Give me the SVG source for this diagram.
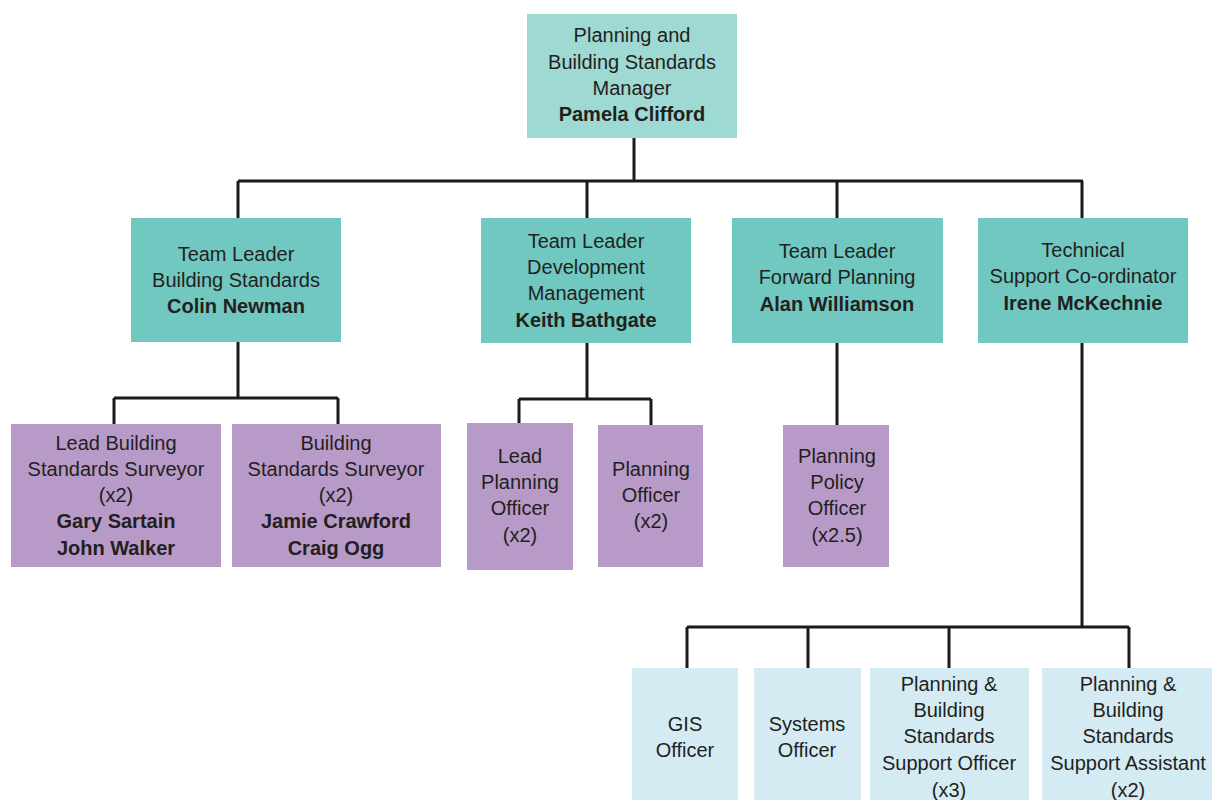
<svg xmlns="http://www.w3.org/2000/svg" width="1212" height="800" viewBox="0 0 1212 800">
<style>
  text { font-family: "Liberation Sans", Arial, sans-serif; font-size: 20px; fill: #231f20; text-anchor: middle; }
  .b { font-weight: bold; }
  .top { fill: #9ed9d3; }
  .lead { fill: #70c8c0; }
  .staff { fill: #b89ac9; }
  .sup { fill: #d4ebf4; }
  .conn { fill: none; stroke: #1a1a1a; stroke-width: 3; }
</style>
<rect width="1212" height="800" fill="#ffffff"/>
<g id="connectors">
  <path class="conn" d="M634 138 V181 M238 181 H1083 M238 181 V218 M587 181 V218 M837 181 V218 M1082 181 V218"/>
  <path class="conn" d="M238 342 V398 M114 398 H338 M114 398 V424 M338 398 V424"/>
  <path class="conn" d="M587 343 V399 M519 399 H651 M519 399 V423 M651 399 V425"/>
  <path class="conn" d="M837 343 V425"/>
  <path class="conn" d="M1082 343 V627 M687 627 H1129 M687 627 V668 M808 627 V668 M949 627 V668 M1129 627 V668"/>
</g>
<g id="manager">
  <rect class="top" x="527" y="14" width="210" height="124"/>
  <text x="632" y="42">Planning and</text>
  <text x="632" y="69">Building Standards</text>
  <text x="632" y="95">Manager</text>
  <text class="b" x="632" y="121">Pamela Clifford</text>
</g>
<g id="tl-building">
  <rect class="lead" x="131" y="218" width="210" height="124"/>
  <text x="236" y="261">Team Leader</text>
  <text x="236" y="287">Building Standards</text>
  <text class="b" x="236" y="313">Colin Newman</text>
</g>
<g id="tl-development">
  <rect class="lead" x="481" y="218" width="210" height="125"/>
  <text x="586" y="248">Team Leader</text>
  <text x="586" y="274">Development</text>
  <text x="586" y="300">Management</text>
  <text class="b" x="586" y="327">Keith Bathgate</text>
</g>
<g id="tl-forward">
  <rect class="lead" x="732" y="218" width="211" height="125"/>
  <text x="837" y="258">Team Leader</text>
  <text x="837" y="284">Forward Planning</text>
  <text class="b" x="837" y="311">Alan Williamson</text>
</g>
<g id="tech-support">
  <rect class="lead" x="978" y="218" width="210" height="125"/>
  <text x="1083" y="257">Technical</text>
  <text x="1083" y="283">Support Co-ordinator</text>
  <text class="b" x="1083" y="310">Irene McKechnie</text>
</g>
<g id="lead-bs-surveyor">
  <rect class="staff" x="11" y="424" width="210" height="143"/>
  <text x="116" y="450">Lead Building</text>
  <text x="116" y="476">Standards Surveyor</text>
  <text x="116" y="502">(x2)</text>
  <text class="b" x="116" y="528">Gary Sartain</text>
  <text class="b" x="116" y="555">John Walker</text>
</g>
<g id="bs-surveyor">
  <rect class="staff" x="232" y="424" width="209" height="143"/>
  <text x="336" y="450">Building</text>
  <text x="336" y="476">Standards Surveyor</text>
  <text x="336" y="502">(x2)</text>
  <text class="b" x="336" y="528">Jamie Crawford</text>
  <text class="b" x="336" y="555">Craig Ogg</text>
</g>
<g id="lead-planning-officer">
  <rect class="staff" x="467" y="423" width="106" height="147"/>
  <text x="520" y="463">Lead</text>
  <text x="520" y="489">Planning</text>
  <text x="520" y="515">Officer</text>
  <text x="520" y="542">(x2)</text>
</g>
<g id="planning-officer">
  <rect class="staff" x="598" y="425" width="105" height="142"/>
  <text x="651" y="476">Planning</text>
  <text x="651" y="502">Officer</text>
  <text x="651" y="528">(x2)</text>
</g>
<g id="planning-policy-officer">
  <rect class="staff" x="783" y="425" width="106" height="142"/>
  <text x="837" y="463">Planning</text>
  <text x="837" y="489">Policy</text>
  <text x="837" y="515">Officer</text>
  <text x="837" y="542">(x2.5)</text>
</g>
<g id="gis-officer">
  <rect class="sup" x="632" y="668" width="106" height="140"/>
  <text x="685" y="731">GIS</text>
  <text x="685" y="757">Officer</text>
</g>
<g id="systems-officer">
  <rect class="sup" x="754" y="668" width="107" height="140"/>
  <text x="807" y="731">Systems</text>
  <text x="807" y="757">Officer</text>
</g>
<g id="support-officer">
  <rect class="sup" x="870" y="668" width="159" height="140"/>
  <text x="949" y="691">Planning &amp;</text>
  <text x="949" y="717">Building</text>
  <text x="949" y="743">Standards</text>
  <text x="949" y="770">Support Officer</text>
  <text x="949" y="797">(x3)</text>
</g>
<g id="support-assistant">
  <rect class="sup" x="1042" y="668" width="175" height="140"/>
  <text x="1128" y="691">Planning &amp;</text>
  <text x="1128" y="717">Building</text>
  <text x="1128" y="743">Standards</text>
  <text x="1128" y="770">Support Assistant</text>
  <text x="1128" y="797">(x2)</text>
</g>
</svg>
